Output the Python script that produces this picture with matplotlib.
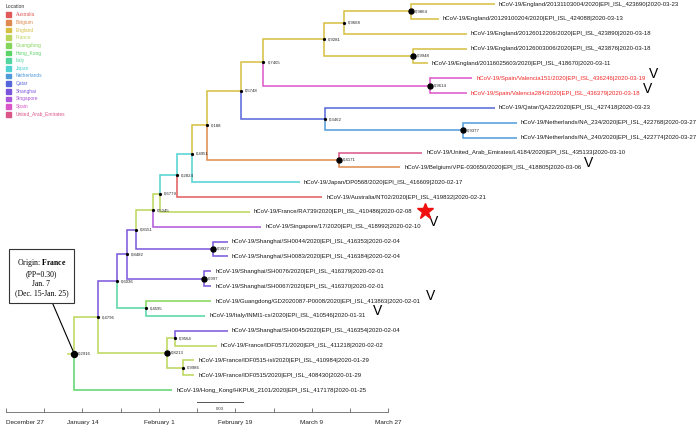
import numpy as np
import matplotlib
matplotlib.use('Agg')
import matplotlib.pyplot as plt
from matplotlib.patches import Rectangle

tip_labels = [
    'hCoV-19/England/20131103004/2020|EPI_ISL_423690|2020-03-23',
    'hCoV-19/England/20129100204/2020|EPI_ISL_424088|2020-03-13',
    'hCoV-19/England/20126012206/2020|EPI_ISL_423890|2020-03-18',
    'hCoV-19/England/20126003006/2020|EPI_ISL_423876|2020-03-18',
    'hCoV-19/England/20116025603/2020|EPI_ISL_418670|2020-03-11',
    'hCoV-19/Spain/Valencia151/2020|EPI_ISL_436246|2020-03-19',
    'hCoV-19/Spain/Valencia284/2020|EPI_ISL_436379|2020-03-18',
    'hCoV-19/Qatar/QA22/2020|EPI_ISL_427418|2020-03-23',
    'hCoV-19/Netherlands/NA_234/2020|EPI_ISL_422768|2020-03-27',
    'hCoV-19/Netherlands/NA_240/2020|EPI_ISL_422774|2020-03-27',
    'hCoV-19/United_Arab_Emirates/L4184/2020|EPI_ISL_435133|2020-03-10',
    'hCoV-19/Belgium/VPE-030650/2020|EPI_ISL_418805|2020-03-06',
    'hCoV-19/Japan/DP0568/2020|EPI_ISL_416609|2020-02-17',
    'hCoV-19/Australia/NT02/2020|EPI_ISL_419832|2020-02-21',
    'hCoV-19/France/RA739/2020|EPI_ISL_410486|2020-02-08',
    'hCoV-19/Singapore/17/2020|EPI_ISL_418992|2020-02-10',
    'hCoV-19/Shanghai/SH0044/2020|EPI_ISL_416353|2020-02-04',
    'hCoV-19/Shanghai/SH0083/2020|EPI_ISL_416384|2020-02-04',
    'hCoV-19/Shanghai/SH0076/2020|EPI_ISL_416379|2020-02-01',
    'hCoV-19/Shanghai/SH0067/2020|EPI_ISL_416370|2020-02-01',
    'hCoV-19/Guangdong/GD2020087-P0008/2020|EPI_ISL_413863|2020-02-01',
    'hCoV-19/Italy/INMI1-cs/2020|EPI_ISL_410546|2020-01-31',
    'hCoV-19/Shanghai/SH0045/2020|EPI_ISL_416354|2020-02-04',
    'hCoV-19/France/IDF0571/2020|EPI_ISL_411218|2020-02-02',
    'hCoV-19/France/IDF0515-isl/2020|EPI_ISL_410984|2020-01-29',
    'hCoV-19/France/IDF0515/2020|EPI_ISL_408430|2020-01-29',
    'hCoV-19/Hong_Kong/HKPU6_2101/2020|EPI_ISL_417178|2020-01-25',
]
red_tips = [5, 6]
v_tips = [5, 6, 11, 15, 20, 21]
v_gap = [2, 2, 2, 6, 4, 5]   # points after the label
star_tip = 14

# internal nodes: posterior, children, node date (days after 2019-12-27), state
node_support = ['0.2916', '0.4796', '0.6036', '0.8482', '0.8151', '0.5345', '0.6779',
                '0.2824', '0.4951', '0.188', '0.5748', '0.7405', '0.9281', '0.9668',
                '0.9864', '0.9948', '0.9614', '0.3462', '0.9377', '0.4171', '0.9927',
                '0.997', '0.4595', '0.8213', '0.9564', '0.9986']
node_children = [('n1', 't26'), ('n2', 'n23'), ('n3', 'n22'), ('n4', 'n21'), ('n5', 'n20'),
                 ('n6', 't15'), ('n7', 't14'), ('n8', 't13'), ('n9', 't12'), ('n10', 'n19'),
                 ('n11', 'n17'), ('n12', 'n16'), ('n13', 'n15'), ('n14', 't2'), ('t0', 't1'),
                 ('t3', 't4'), ('t5', 't6'), ('t7', 'n18'), ('t8', 't9'), ('t10', 't11'),
                 ('t16', 't17'), ('t18', 't19'), ('t20', 't21'), ('n24', 'n25'),
                 ('t22', 't23'), ('t24', 't25')]
node_day = [11.4, 15.7, 19.1, 20.9, 22.5, 25.6, 26.8, 29.9, 32.6, 35.3, 41.4, 45.4, 56.3,
            59.9, 72.0, 72.3, 75.4, 56.5, 81.3, 59.0, 36.4, 34.7, 24.3, 28.1, 29.5, 31.0]
node_loc = ['France', 'France', 'Shanghai', 'Shanghai', 'Shanghai', 'France', 'France',
            'Japan', 'Japan', 'England', 'England', 'England', 'England', 'England',
            'England', 'England', 'Spain', 'Qatar', 'Netherlands', 'Belgium', 'Shanghai',
            'Shanghai', 'Italy', 'France', 'France', 'France']
big_nodes = [0, 14, 15, 16, 18, 19, 20, 21, 23]

locations = ['Australia', 'Belgium', 'England', 'France', 'Guangdong', 'Hong_Kong', 'Italy',
             'Japan', 'Netherlands', 'Qatar', 'Shanghai', 'Singapore', 'Spain',
             'United_Arab_Emirates']
loc_colors = ['#E05A5A', '#DE8A4E', '#D6BE40', '#BAD65A', '#84D65A', '#5CD46A', '#52D6A0',
              '#4FD2D2', '#4F9ADB', '#5566DB', '#7A55DB', '#AD55DB', '#DB55C8', '#DB5588']
color_of = dict(zip(locations, loc_colors))

date_tick_days = [0, 18, 36, 54, 72, 90]
date_tick_labels = ['December 27', 'January 14', 'February 1', 'February 19', 'March 9', 'March 27']

origin_text = 'Origin: $\\mathbf{France}$\n(PP=0.30)\nJan. 7\n(Dec. 15-Jan. 25)'

plt.rcParams['font.family'] = 'Liberation Sans'
plt.rcParams['mathtext.fontset'] = 'custom'
plt.rcParams['mathtext.rm'] = 'Liberation Serif'
plt.rcParams['mathtext.bf'] = 'Liberation Serif:bold'

start = np.datetime64('2019-12-27')
tip_day = [float((np.datetime64(l.split('|')[-1]) - start).astype(int)) for l in tip_labels]
tip_loc = [l.split('/')[1] for l in tip_labels]

# y of internal nodes = mean of children
node_y = [None] * len(node_support)


def pos(ref):
    i = int(ref[1:])
    if ref[0] == 't':
        return tip_day[i], float(i)
    if node_y[i] is None:
        node_y[i] = np.mean([pos(c)[1] for c in node_children[i]])
    return node_day[i], node_y[i]


def loc(ref):
    i = int(ref[1:])
    return tip_loc[i] if ref[0] == 't' else node_loc[i]


W, H = 696, 430
px_day, x0 = 5.56, 10.8
px_row, y0 = 14.85, 4.0

fig = plt.figure(figsize=(W / 100, H / 100), dpi=100)
ax = fig.add_axes([0, 0, 1, 1])
ax.set_xlim(-x0 / px_day, (W - x0) / px_day)
ax.set_ylim((H - y0) / px_row, -y0 / px_row)
ax.axis('off')

# branches
for j in range(len(node_support)):
    px, py = pos('n%d' % j)
    for c in node_children[j]:
        cx, cy = pos(c)
        ax.plot([px, px, cx], [py, cy, cy], color=color_of[loc(c)], lw=1.1,
                solid_capstyle='butt', solid_joinstyle='miter', zorder=2)
rx, ry = pos('n0')
ax.plot([rx - 1.1, rx], [ry, ry], color=color_of[node_loc[0]], lw=1.1, zorder=2)

# node dots and posterior labels
for j in range(len(node_support)):
    px, py = pos('n%d' % j)
    ms = 1.3
    if j in big_nodes:
        ms = 4.3 if j == 0 else 3.6
    ax.plot(px, py, 'o', color='black', ms=ms, zorder=4)
    ax.annotate(node_support[j].replace('.', ','), xy=(px, py), xytext=(3, 0),
                textcoords='offset points', fontsize=3.1, va='center', color='#222')

# tip labels
tip_texts = []
for i, lbl in enumerate(tip_labels):
    color = '#F02828' if i in red_tips else '#1a1a1a'
    t = ax.annotate(lbl, xy=(tip_day[i], i), xytext=(3, 0), textcoords='offset points',
                    fontsize=4.3, va='center', color=color)
    tip_texts.append(t)
    if i in v_tips:
        ax.annotate('V', xy=(1, 0), xycoords=t, xytext=(v_gap[v_tips.index(i)], 0),
                    textcoords='offset points', fontsize=10, va='bottom', ha='left',
                    color='black')

# red star marker just after the France/RA739 label
fig.canvas.draw()
bb = tip_texts[star_tip].get_window_extent()
sx, _ = ax.transData.inverted().transform((bb.x1 + 12, bb.y0))
ax.plot(sx, star_tip - 0.05, marker='*', ms=12, color='#F01010', mec='#F01010', zorder=5)

# origin box
ax.annotate(origin_text, xy=(rx, ry), xytext=(5.5, 18.4), ha='center', va='center',
            fontsize=5.6, family='Liberation Serif', linespacing=1.25,
            bbox=dict(boxstyle='square,pad=0.75', fc='white', ec='#333333', lw=0.8),
            arrowprops=dict(arrowstyle='-', color='black', lw=0.8, shrinkA=0, shrinkB=0),
            zorder=3)

# scale bar (0.03 subst.)
ax.plot([33.5, 41.8], [26.8, 26.8], color='#555555', lw=0.7)
ax.text(37.65, 27.25, '0.03', fontsize=3.1, ha='center', va='center', color='#333')

# legend
fig.text(6 / W, 1 - 7 / H, 'Location', fontsize=3.6, va='center', color='#333333')
for k, (name, c) in enumerate(zip(locations, loc_colors)):
    yc = 14.7 + 7.66 * k
    fig.add_artist(Rectangle((6 / W, 1 - (yc + 2.4) / H), 4.8 / W, 4.8 / H,
                             transform=fig.transFigure, color=c))
    fig.text(16 / W, 1 - yc / H, name, fontsize=3.5, va='center', color=c)

# date axis
ax2 = fig.add_axes([6 / W, (H - 412) / H, (388.3 - 6) / W, 0.0005])
ax2.set_xlim(0, 90)
ax2.set_yticks([])
ax2.patch.set_visible(False)
for s in ['top', 'left', 'right']:
    ax2.spines[s].set_visible(False)
ax2.spines['bottom'].set_color('#666666')
ax2.spines['bottom'].set_linewidth(0.6)
ax2.set_xticks(date_tick_days, date_tick_labels)
ax2.set_xticks(np.arange(9, 90, 18), minor=True)
ax2.tick_params(which='both', direction='in', length=3, width=0.6, color='#666666',
                labelsize=4.6, pad=6, labelcolor='#222222')
ax2.get_xticklabels()[0].set_ha('left')

fig.savefig('out.png', dpi=100)
